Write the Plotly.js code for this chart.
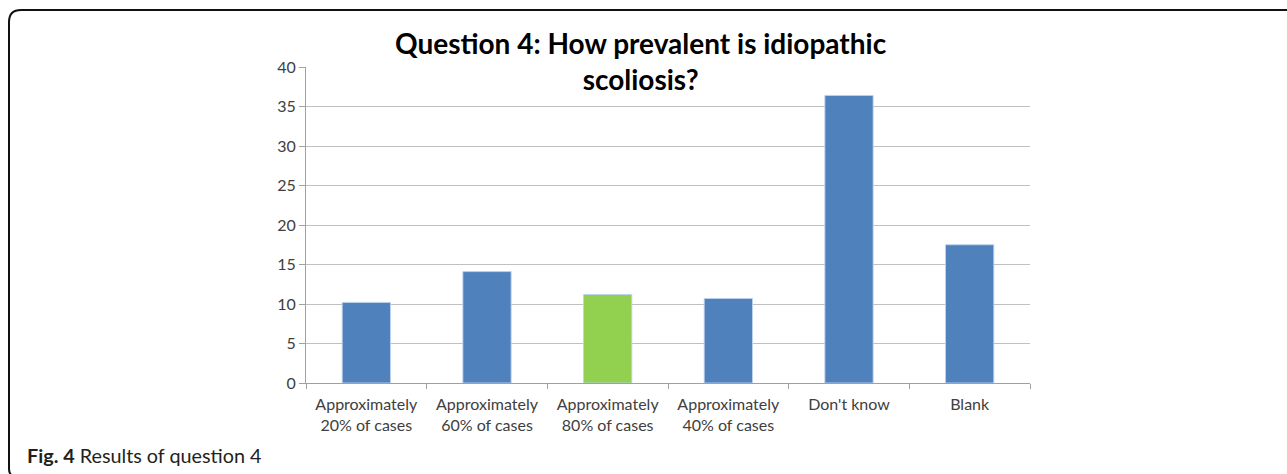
<!DOCTYPE html>
<html>
<head>
<meta charset="utf-8">
<script src="https://cdn.plot.ly/plotly-3.0.1.min.js"></script>
<style>
  html, body { margin: 0; padding: 0; background: #ffffff; }
  #chart { width: 1287px; height: 474px; }
</style>
</head>
<body>
<div id="chart"></div>
<script>
// ---- data ----
var categories = [
  "Approximately<br>20% of cases",
  "Approximately<br>60% of cases",
  "Approximately<br>80% of cases",
  "Approximately<br>40% of cases",
  "Don't know",
  "Blank"
];
var values = [10.2, 14.1, 11.2, 10.7, 36.4, 17.5];
var barColors = ["#4f81bd", "#4f81bd", "#92d050", "#4f81bd", "#4f81bd", "#4f81bd"];
var yTicks = [0, 5, 10, 15, 20, 25, 30, 35, 40];
var titleLines = ["Question 4: How prevalent is idiopathic", "scoliosis?"];
var captionText = "<b>Fig. 4</b> Results of question 4";

// ---- layout geometry ----
var W = 1287, H = 474;
var M = { l: 306, r: 257, t: 67, b: 91 };
var pw = W - M.l - M.r, ph = H - M.t - M.b;
function px(x) { return (x - M.l) / pw; }
function py(y) { return (H - M.b - y) / ph; }
function P(x, y) { return px(x).toFixed(5) + "," + py(y).toFixed(5); }

// open frame: top edge + rounded top-left corner + left edge
var framePath = "M" + P(1290, 10) + " L" + P(21, 10) +
  " Q" + P(9, 10) + " " + P(9, 22) +
  " L" + P(9, 469) + " Q" + P(9, 473) + " " + P(12, 476);

var trace = {
  type: "bar",
  x: categories,
  y: values,
  marker: { color: barColors, line: { color: "rgba(190,210,240,0.9)", width: 1 } },
  hoverinfo: "x+y"
};

var fontFam = "Lato, 'Open Sans', sans-serif";

var layout = {
  width: W, height: H,
  margin: M,
  paper_bgcolor: "#ffffff",
  plot_bgcolor: "#ffffff",
  showlegend: false,
  bargap: 0.6,
  font: { family: fontFam, color: "#404040", size: 16 },
  xaxis: {
    type: "category",
    tickson: "boundaries",
    ticks: "outside",
    ticklen: 5,
    tickcolor: "#a0a0a0",
    showline: true,
    linecolor: "#a0a0a0",
    linewidth: 1,
    showgrid: false,
    ticklabelstandoff: 7,
    tickfont: { family: fontFam, size: 16, color: "#404040" },
    fixedrange: true
  },
  yaxis: {
    range: [0, 40],
    tickvals: yTicks,
    ticks: "outside",
    ticklen: 6,
    tickcolor: "#a0a0a0",
    showline: true,
    linecolor: "#a0a0a0",
    linewidth: 1,
    showgrid: true,
    gridcolor: "#c0c0c0",
    gridwidth: 1,
    zeroline: false,
    tickfont: { family: fontFam, size: 16, color: "#404040" },
    fixedrange: true
  },
  annotations: [
    { text: "<b>" + titleLines.join("<br>") + "</b>", xref: "paper", yref: "paper",
      x: px(641), y: py(61), xanchor: "center", yanchor: "middle", align: "center",
      showarrow: false,
      font: { family: fontFam, size: 28, color: "#000000" } },
    { text: captionText, xref: "paper", yref: "paper",
      x: px(25), y: py(455), xanchor: "left", yanchor: "middle", showarrow: false,
      font: { family: fontFam, size: 19.8, color: "#231f20" } }
  ],
  shapes: [
    { type: "path", xref: "paper", yref: "paper", path: framePath,
      line: { color: "#111111", width: 2 }, fillcolor: "rgba(0,0,0,0)", layer: "below" }
  ]
};

Plotly.newPlot("chart", [trace], layout, { displayModeBar: false, staticPlot: true });
</script>
</body>
</html>
